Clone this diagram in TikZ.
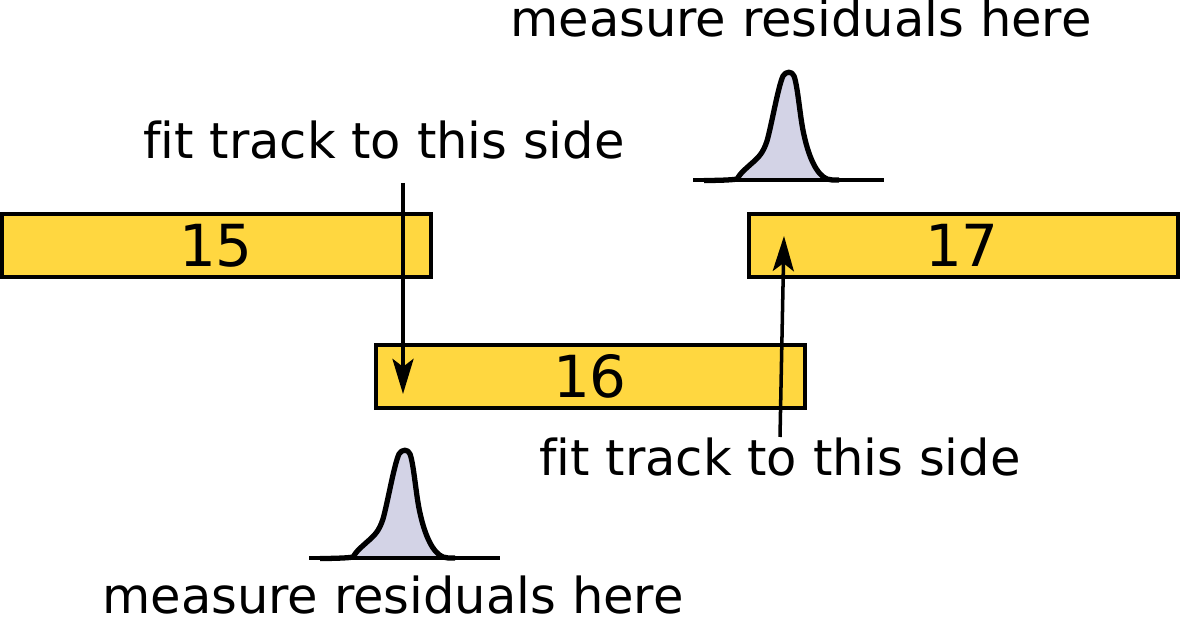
\documentclass[tikz,border=0pt]{standalone}
\usepackage{fontspec}
\setmainfont{DejaVu Sans}[Ligatures=NoCommon]
\usetikzlibrary{arrows.meta}
\definecolor{boxyellow}{RGB}{255,215,64}
\definecolor{peakfill}{RGB}{211,211,230}
\tikzset{
  stripbox/.style={draw=black, line width=2pt, fill=boxyellow},
  lbl/.style={font=\fontsize{28.2}{34}\selectfont, anchor=base, inner sep=0pt},
  num/.style={font=\fontsize{33}{39}\selectfont, anchor=base, inner sep=0pt},
  arr/.style={line width=2pt, -{Stealth[length=20pt,width=12pt,inset=4.5pt]}},
  peakline/.style={line width=3pt, line join=round},
}
\newcommand{\drawpeak}[2]{%
  \begin{scope}[shift={(#1,#2)}]
    \fill[peakfill] (-62,107) .. controls (-52,106) and (-48,100) .. (-38,91)
      .. controls (-30,84) and (-26,80) .. (-22,68)
      .. controls (-17,50) and (-11,14) .. (-6,3)
      .. controls (-3,-2) and (3,-2) .. (5,3)
      .. controls (9,14) and (11,45) .. (15,62)
      .. controls (20,85) and (28,102) .. (38,106) -- cycle;
    \draw[peakline] (-85,107.5) .. controls (-72,107.5) and (-56,107) .. (-52,106)
      .. controls (-48,100) .. (-38,91)
      .. controls (-30,84) and (-26,80) .. (-22,68)
      .. controls (-17,50) and (-11,14) .. (-6,3)
      .. controls (-3,-2) and (3,-2) .. (5,3)
      .. controls (9,14) and (11,45) .. (15,62)
      .. controls (20,85) and (28,102) .. (38,106) .. controls (42,107) .. (50,107);
    \draw[line width=2.6pt] (-96,107) -- (95,107);
  \end{scope}}
\begin{document}
\begin{tikzpicture}[x=0.02cm, y=-0.02cm]
\useasboundingbox (0,0) rectangle (1180,617);
% boxes
\draw[stripbox] (2,214) rectangle (431,277);
\draw[stripbox] (749,214) rectangle (1178,277);
\draw[stripbox] (376,345) rectangle (805,408);
\node[num] (n15) at (216,267) {15};
\node[num] (n17) at (962,267) {17};
\node[num] (n16) at (590,398) {16};
% peaks
\drawpeak{789}{73}
\drawpeak{405}{451}
% labels
\node[lbl] (mtop) at (801,37) {measure residuals here};
\node[lbl] (ftop) at (384,159) {fit track to this side};
\node[lbl] (fbot) at (780,476) {fit track to this side};
\node[lbl] (mbot) at (393,614) {measure residuals here};
% arrows
\coordinate (a1s) at (403,183);
\coordinate (a1e) at (403,394);
\coordinate (a2s) at (780,437);
\coordinate (a2e) at (784,236);
\draw[arr] (a1s) -- (a1e);
\draw[arr] (a2s) -- (a2e);
\end{tikzpicture}
\end{document}
